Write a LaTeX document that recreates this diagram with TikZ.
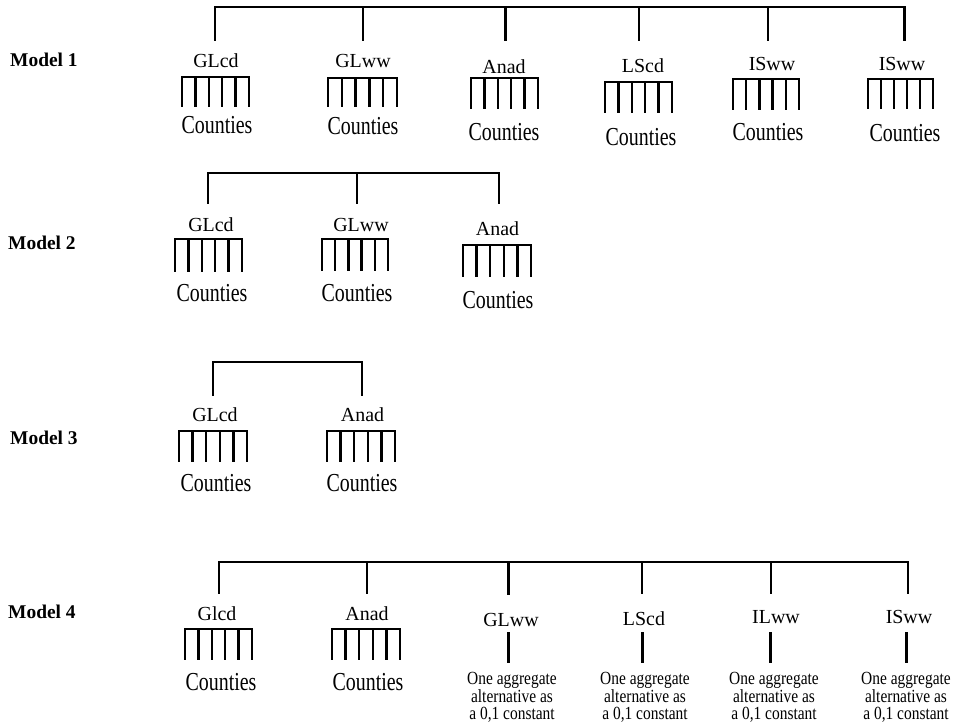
\documentclass[tikz,border=0pt]{standalone}
\usepackage{fontspec}
\setmainfont{Liberation Serif}
\usepackage{graphicx}
\tikzset{
  lbl/.style={inner sep=0pt, font=\fontsize{20}{24}\selectfont},
  cty/.style={inner sep=0pt, font=\fontsize{20}{24}\selectfont},
  mdl/.style={inner sep=0pt, anchor=west, font=\fontsize{19.5}{24}\selectfont\bfseries},
  agg/.style={inner sep=0pt, align=center, font=\fontsize{15.5}{12.8}\selectfont},
  tree/.style={line width=2bp, line cap=rect, line join=miter},
  thicktree/.style={line width=3bp},
  combline/.style={line width=2.5bp, line cap=butt},
}
\newcommand\mycomb[4]{%
  \draw[combline, line cap=rect] (#1,#3) -- (#2,#3);
  \foreach \i in {0,...,5}{%
    \pgfmathsetmacro\tx{#1+(#2-#1)*\i/5}%
    \draw[combline] (\tx,#3) -- (\tx,#4);
  }%
}
\newcommand\ctys[2]{\node[cty] at (#1,#2) {\scalebox{1}[1.3]{Counties}};}
\begin{document}
\begin{tikzpicture}[x=1bp,y=-1bp]
\useasboundingbox (0,0) rectangle (958,723);

% ---------------- Model 1
\node[mdl] (M1) at (10,60) {Model 1};
\foreach \n/\x in {1/215,2/363,3/505.5,4/639,5/768,6/904}{
  \coordinate (m1a\n) at (\x,7.5);
  \coordinate (m1d\n) at (\x,40);
}
\draw[tree] (m1d1) -- (m1a1) -- (m1a6) -- (m1d6);
\draw[tree] (m1a2) -- (m1d2);
\draw[tree,thicktree] (m1a3) -- (m1d3);
\draw[tree] (m1a4) -- (m1d4);
\draw[tree] (m1a5) -- (m1d5);
\draw[tree,thicktree] (m1a6) -- (m1d6);
\node[lbl] (m1l1) at (216,61) {GLcd};
\node[lbl] (m1l2) at (363,61) {GLww};
\node[lbl] (m1l3) at (504,67) {Anad};
\node[lbl] (m1l4) at (643,66) {LScd};
\node[lbl] (m1l5) at (772,64) {ISww};
\node[lbl] (m1l6) at (902,64) {ISww};
\mycomb{182}{249}{77}{107}
\mycomb{328}{397}{78}{107}
\mycomb{471}{538}{78}{109}
\mycomb{605}{672}{82}{113}
\mycomb{733}{799}{79}{110}
\mycomb{868}{933}{79}{109}
\ctys{217}{125}\ctys{363}{126}\ctys{504}{132}
\ctys{641}{137}\ctys{768}{132}\ctys{905}{133}

% ---------------- Model 2
\node[mdl] (M2) at (8,243) {Model 2};
\foreach \n/\x in {1/208,2/357,3/499}{
  \coordinate (m2a\n) at (\x,172.7);
  \coordinate (m2d\n) at (\x,203);
}
\draw[tree] (m2d1) -- (m2a1) -- (m2a3) -- (m2d3);
\draw[tree] (m2a2) -- (m2d2);
\node[lbl] (m2l1) at (211,225) {GLcd};
\node[lbl] (m2l2) at (361,225) {GLww};
\node[lbl] (m2l3) at (497.5,229) {Anad};
\mycomb{175}{242}{239}{272}
\mycomb{322}{388}{239}{271}
\mycomb{463}{531}{245}{277}
\ctys{212}{293}\ctys{357}{293}\ctys{498}{300}

% ---------------- Model 3
\node[mdl] (M3) at (10,438) {Model 3};
\foreach \n/\x in {1/213,2/362}{
  \coordinate (m3a\n) at (\x,362);
  \coordinate (m3d\n) at (\x,395);
}
\draw[tree] (m3d1) -- (m3a1) -- (m3a2) -- (m3d2);
\node[lbl] (m3l1) at (215,415) {GLcd};
\node[lbl] (m3l2) at (362.5,415) {Anad};
\mycomb{179}{247}{431}{462}
\mycomb{327}{395}{431}{462}
\ctys{216}{483}\ctys{362}{483}

% ---------------- Model 4
\node[mdl] (M4) at (8,612) {Model 4};
\foreach \n/\x in {1/219,2/367,3/508,4/642,5/771,6/908}{
  \coordinate (m4a\n) at (\x,562);
  \coordinate (m4d\n) at (\x,593);
}
\draw[tree] (m4d1) -- (m4a1) -- (m4a6) -- (m4d6);
\draw[tree] (m4a2) -- (m4d2);
\draw[tree,thicktree] (m4a3) -- (m4d3);
\draw[tree] (m4a4) -- (m4d4);
\draw[tree] (m4a5) -- (m4d5);
\node[lbl] (m4l1) at (217,614) {Glcd};
\node[lbl] (m4l2) at (367,614) {Anad};
\node[lbl] (m4l3) at (511,620) {GLww};
\node[lbl] (m4l4) at (644,619) {LScd};
\node[lbl] (m4l5) at (776,617) {ILww};
\node[lbl] (m4l6) at (909,617) {ISww};
\mycomb{185}{252}{629}{660}
\mycomb{332}{400}{629}{660}
\ctys{221}{682}\ctys{368}{682}
\foreach \n/\x/\tx in {3/508/512,4/642/645,5/770/774,6/906/906}{
  \coordinate (s\n t) at (\x,632);
  \coordinate (s\n b) at (\x,663);
  \draw[tree,line cap=butt,thicktree] (s\n t) -- (s\n b);
  \node[agg] (g\n) at (\tx,698) {\scalebox{1}[1.2]{\begin{tabular}{@{}c@{}}One aggregate\\alternative as\\a 0,1 constant\end{tabular}}};
}
\end{tikzpicture}
\end{document}
